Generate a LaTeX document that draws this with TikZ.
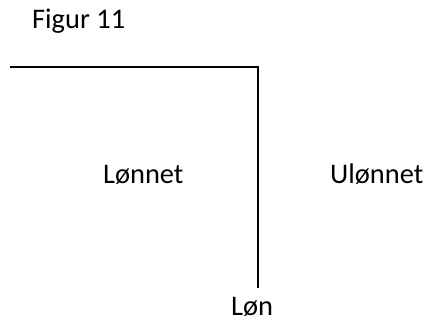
\documentclass[tikz,border=0pt]{standalone}
\usepackage{fontspec}
\setmainfont{Carlito}
\begin{document}
\begin{tikzpicture}[x=1pt,y=-1pt,
  lbl/.style={anchor=base west,inner sep=0pt,font=\fontsize{28.4}{34}\selectfont},
  axis/.style={line width=2pt,black}]
\useasboundingbox (0,0) rectangle (427,320);
\node[lbl] (fig) at (32,29) {Figur 11};
\coordinate (left) at (10,66.7);
\coordinate (corner) at (258.3,66.7);
\coordinate (bottom) at (258.3,288);
\draw[axis] (left) -- (corner) -- (bottom);
\node[lbl] (lonnet) at (103,183) {Lønnet};
\node[lbl] (ulonnet) at (330,183) {Ulønnet};
\node[lbl] (lon) at (231,315) {Løn};
\end{tikzpicture}
\end{document}
